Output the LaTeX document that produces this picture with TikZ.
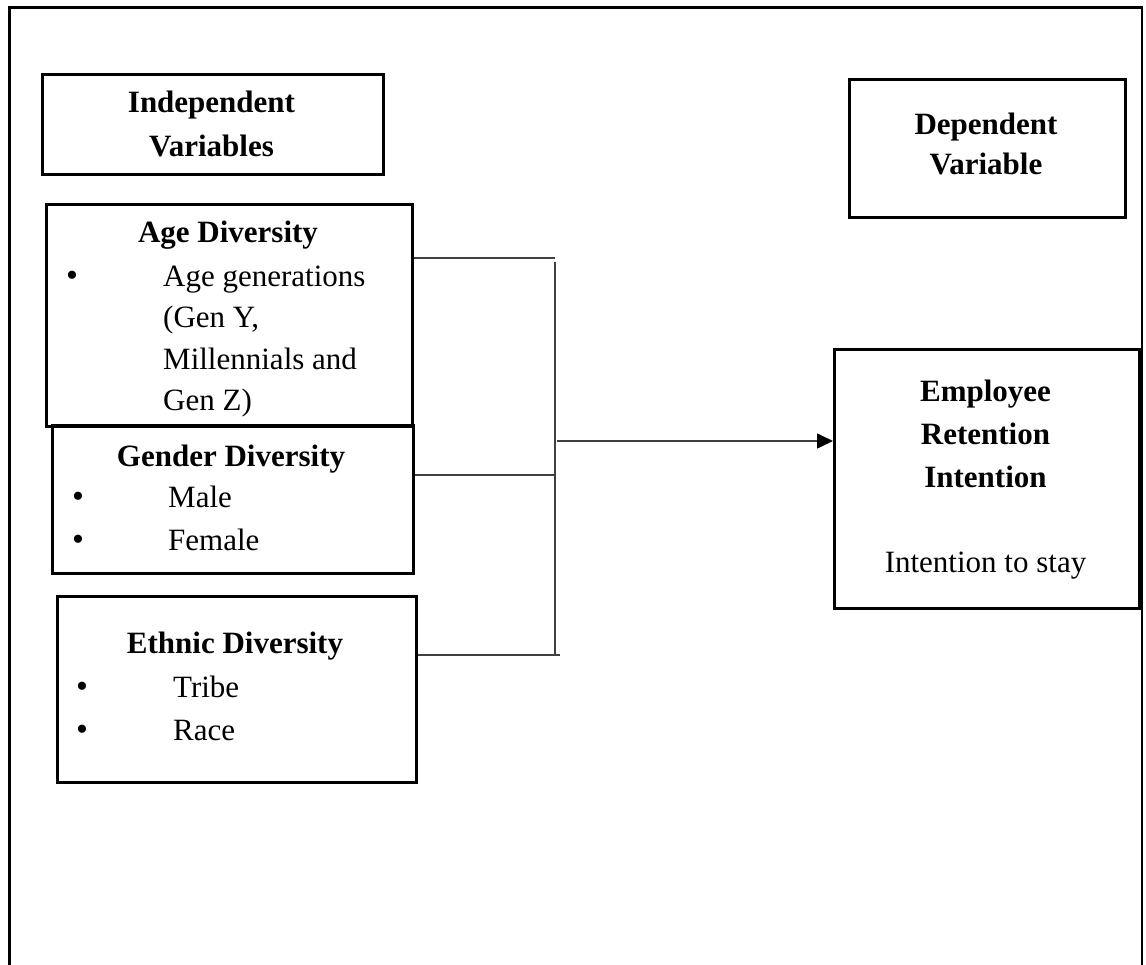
\documentclass[tikz,border=0pt]{standalone}
\usepackage{fontspec}
\setmainfont{Liberation Serif}
\usetikzlibrary{arrows.meta}
\begin{document}
\begin{tikzpicture}[x=1pt,y=-1pt,
  box/.style={draw=black,line width=2.8pt,rectangle,inner sep=0pt,anchor=north west},
  ttl/.style={anchor=base,inner sep=0pt,font=\fontsize{31}{40}\bfseries},
  itm/.style={anchor=base west,inner sep=0pt,font=\fontsize{31}{40}\selectfont},
  bul/.style={anchor=base,inner sep=0pt,font=\fontsize{34}{40}\selectfont},
  conn/.style={draw=black!75,line width=1.6pt},
  arr/.style={conn,-{Triangle[length=16pt,width=15pt,fill=black,color=black]}}]
\useasboundingbox (0,0) rectangle (1146,965);
% outer frame (open at the bottom)
\coordinate (fbl) at (9.5,965);
\coordinate (ftl) at (9.5,7.5);
\coordinate (ftr) at (1142,7.5);
\coordinate (fbr) at (1142,965);
\draw[line width=2.7pt] (fbl) -- (ftl) -- (ftr) -- (fbr);
% boxes
\node[box,minimum width=341pt,minimum height=100pt] (indep) at (41,73) {};
\node[box,minimum width=276pt,minimum height=138pt] (dep) at (848,78) {};
\node[box,minimum width=366pt,minimum height=222pt] (age) at (45,203) {};
\node[box,minimum width=361pt,minimum height=148pt] (gender) at (51,424) {};
\node[box,minimum width=359pt,minimum height=186pt] (ethnic) at (56,595) {};
\node[box,minimum width=305pt,minimum height=259pt] (emp) at (833,348) {};
% texts
\node[ttl] (indep1) at (211.5,113) {Independent};
\node[ttl] (indep2) at (211.5,157) {Variables};
\node[ttl] (dep1) at (986,135) {Dependent};
\node[ttl] (dep2) at (986,175) {Variable};
\node[ttl] (aget) at (228,243) {Age Diversity};
\node[bul] (ageb) at (72,287) {•};
\node[itm] (age1) at (163,287) {Age generations};
\node[itm] (age2) at (163,328) {(Gen Y,};
\node[itm] (age3) at (163,370) {Millennials and};
\node[itm] (age4) at (163,411) {Gen Z)};
\node[ttl] (gent) at (231,466) {Gender Diversity};
\node[bul] (genb1) at (78,507) {•};
\node[itm] (gen1) at (168,507) {Male};
\node[bul] (genb2) at (78,550) {•};
\node[itm] (gen2) at (168,550) {Female};
\node[ttl] (etht) at (235,653) {Ethnic Diversity};
\node[bul] (ethb1) at (82,697) {•};
\node[itm] (eth1) at (173,697) {Tribe};
\node[bul] (ethb2) at (82,740) {•};
\node[itm] (eth2) at (173,740) {Race};
\node[ttl] (emp1) at (985.5,402) {Employee};
\node[ttl] (emp2) at (985.5,444) {Retention};
\node[ttl] (emp3) at (985.5,487) {Intention};
\node[itm,anchor=base] (emp4) at (985.5,572) {Intention to stay};
% connectors
\coordinate (bus1) at (555,258);
\coordinate (bus2) at (555,475);
\coordinate (bus3) at (555,655);
\coordinate (bus3e) at (560,655);
\coordinate (bustop) at (555,262);
\coordinate (join) at (557,441);
\draw[conn] (age.east |- bus1) -- (bus1);
\draw[conn] (gender.east |- bus2) -- (bus2);
\draw[conn] (ethnic.east |- bus3) -- (bus3e);
\draw[conn] (bustop) -- (bus3);
\draw[arr] (join) -- (join -| emp.west);
\end{tikzpicture}
\end{document}
